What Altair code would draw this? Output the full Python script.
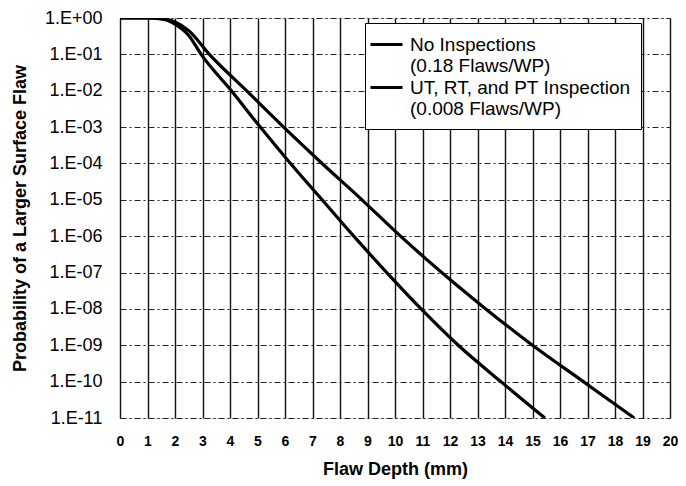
import altair as alt
import pandas as pd

# Series labels (legend text, '|' = line break)
series_names = [
    "No Inspections|(0.18 Flaws/WP)",
    "UT, RT, and PT Inspection|(0.008 Flaws/WP)",
]

# No Inspections curve: flaw depth (mm) and probability of larger flaw
x_none = [0, 1.0, 1.5, 2.0, 2.5, 3.25, 4.6, 5.95, 7.35, 8.8, 10.2, 11.7, 13.3, 15.0, 16.85, 18.7]
p_none = [1.0, 1.0, 0.96, 0.78, 0.45, 1e-1, 1e-2, 1e-3, 1e-4, 1e-5, 1e-6, 1e-7, 1e-8, 1e-9, 1e-10, 1e-11]

# UT, RT and PT inspection curve
x_insp = [0, 1.0, 1.5, 2.0, 2.5, 2.95, 4.05, 5.1, 6.2, 7.35, 8.5, 9.7, 10.95, 12.3, 13.85, 15.45]
p_insp = [1.0, 1.0, 0.95, 0.68, 0.33, 1e-1, 1e-2, 1e-3, 1e-4, 1e-5, 1e-6, 1e-7, 1e-8, 1e-9, 1e-10, 1e-11]

x_ticks = list(range(0, 21))
y_ticks = [10.0 ** (-k) for k in range(0, 12)]

rows = []
for i, (xs, ps) in enumerate([(x_none, p_none), (x_insp, p_insp)]):
    for j, (xv, pv) in enumerate(zip(xs, ps)):
        rows.append({"series": series_names[i], "x": xv, "p": pv, "order": j})
df = pd.DataFrame(rows)

FONT = "Liberation Sans"

y_label_expr = (
    "datum.value >= 0.5 ? '1.E+00' : '1.E-' + "
    "(round(-log(datum.value)/LN10) < 10 ? '0' : '') + round(-log(datum.value)/LN10)"
)

chart = (
    alt.Chart(df)
    .mark_line(clip=True, interpolate="monotone", strokeWidth=3.2)
    .encode(
        x=alt.X(
            "x:Q",
            scale=alt.Scale(domain=[0, 20], nice=False),
            axis=alt.Axis(
                values=x_ticks,
                title="Flaw Depth (mm)",
                titleFont=FONT,
                titleFontSize=18,
                titleFontWeight="bold",
                titleColor="black",
                titleY=51,
                titleBaseline="middle",
                labelFont=FONT,
                labelFontSize=14,
                labelFontWeight="bold",
                labelColor="black",
                labelPadding=16,
                ticks=False,
                domain=False,
                grid=True,
                gridColor="#111111",
                gridWidth=1.4,
                labelFlush=False,
            ),
        ),
        y=alt.Y(
            "p:Q",
            scale=alt.Scale(type="log", domain=[1e-11, 1], nice=False),
            axis=alt.Axis(
                values=y_ticks,
                labelExpr=y_label_expr,
                title="Probability of a Larger Surface Flaw",
                titleFont=FONT,
                titleFontSize=18,
                titleFontWeight="bold",
                titleColor="black",
                titleAngle=270,
                titleX=-100,
                titleY=200,
                titleAlign="center",
                titleBaseline="middle",
                labelFont=FONT,
                labelFontSize=18,
                labelColor="black",
                labelPadding=18,
                ticks=False,
                domain=False,
                grid=True,
                gridColor="#222222",
                gridWidth=1,
                gridDash=[6, 3, 2, 3],
                labelFlush=False,
            ),
        ),
        color=alt.Color(
            "series:N",
            scale=alt.Scale(domain=series_names, range=["black", "black"]),
            legend=alt.Legend(
                title=None,
                orient="none",
                legendX=245,
                legendY=5,
                labelExpr="split(datum.label, '|')",
                labelFont=FONT,
                labelFontSize=19,
                labelColor="black",
                labelLimit=400,
                labelOffset=12,
                symbolType="M-1.6,0L1.6,0",
                symbolSize=400,
                symbolStrokeWidth=3,
                strokeColor="black",
                fillColor="white",
                padding=10,
                rowPadding=0,
                cornerRadius=0,
            ),
        ),
        order="order:Q",
    )
    .properties(
        width=550,
        height=400,
        autosize=alt.AutoSizeParams(type="none"),
        padding={"left": 112, "top": 10, "right": 8, "bottom": 62},
    )
    .configure_view(stroke="black", strokeWidth=2)
    .configure(background="white")
)

chart.save("out.html", embed_options={"renderer": "svg", "actions": False})
